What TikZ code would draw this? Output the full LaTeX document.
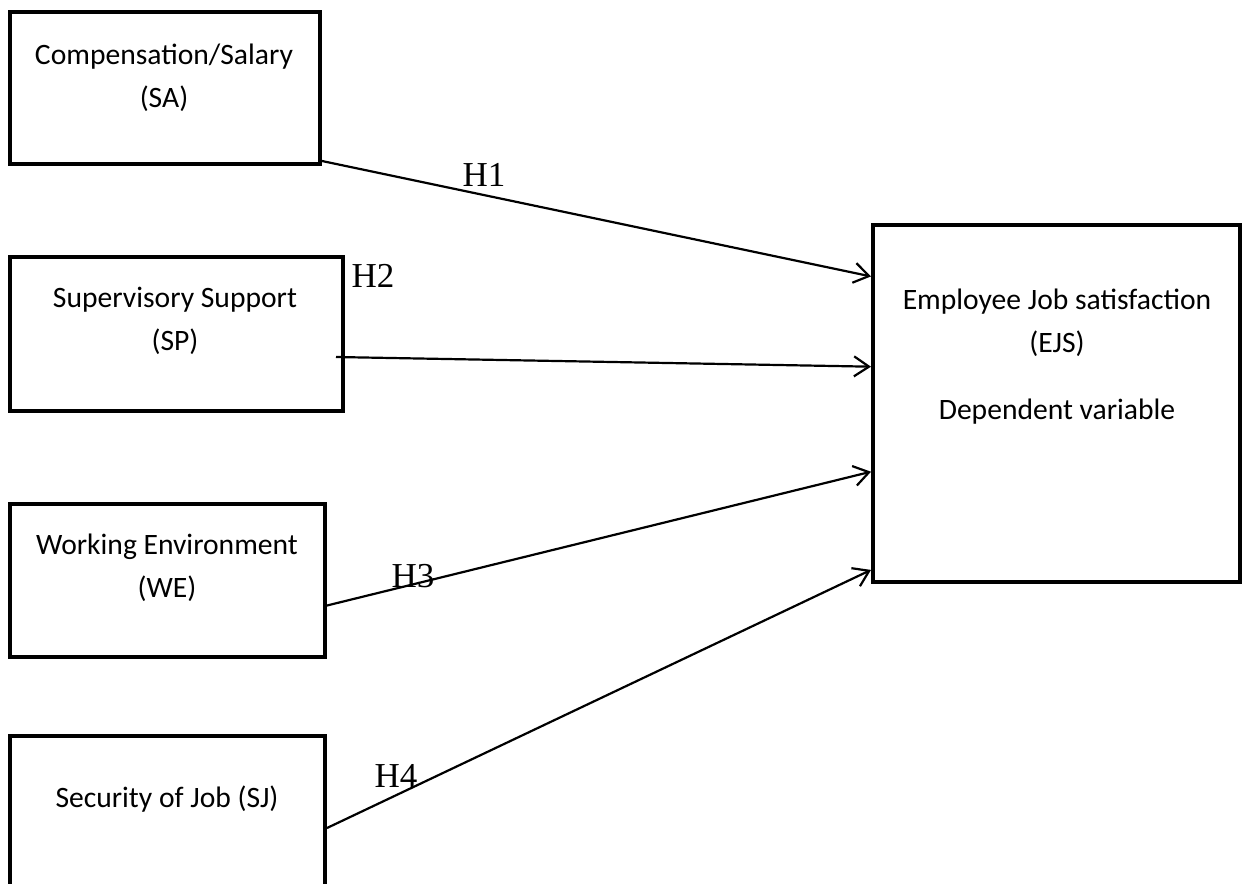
\documentclass[tikz,border=0pt]{standalone}
\usepackage{fontspec}
\setmainfont{Carlito}
\newfontfamily\hypfont{Liberation Serif}
\usepackage{tikz}
\usetikzlibrary{arrows.meta,calc,positioning}

\tikzset{
    varbox/.style={draw, rectangle, line width=2pt, inner sep=0pt},
    boxtext/.style={align=center, font=\fontsize{14.8}{21.5}\selectfont},
    hyp/.style={line width=1.1pt, -{Straight Barb[length=7.5pt,width=10pt]}},
    hyplabel/.style={font=\hypfont\fontsize{17.5}{20}\selectfont, inner sep=0pt}
}

\begin{document}
\begin{tikzpicture}[x=0.5pt, y=-0.5pt]
    \useasboundingbox (0,0) rectangle (1244,884);

    % Independent variables
    \node[varbox, minimum width=155pt, minimum height=76pt] (sa) at (165,88) {};
    \node[boxtext] (satext) at (164,78) {Compensation/Salary\\(SA)};

    \node[varbox, minimum width=166.5pt, minimum height=77pt] (sp) at (176.5,334) {};
    \node[boxtext] (sptext) at (175,321) {Supervisory Support\\(SP)};

    \node[varbox, minimum width=157.5pt, minimum height=76.5pt] (we) at (167.5,580.5) {};
    \node[boxtext] (wetext) at (167,568) {Working Environment\\(WE)};

    \node[varbox, minimum width=157.5pt, minimum height=76.5pt] (sj) at (167.5,812) {};
    \node[boxtext] (sjtext) at (167,799) {Security of Job (SJ)};

    % Dependent variable
    \node[varbox, minimum width=183.5pt, minimum height=178.5pt] (ejs) at (1056.5,403.5) {};
    \node[boxtext] (ejstext) at (1057,357) {Employee Job satisfaction\\(EJS)\\[12pt]Dependent variable};

    \coordinate (in1) at ($(ejs.north west)!0.148!(ejs.south west)$);
    \coordinate (in2) at ($(ejs.north west)!0.398!(ejs.south west)$);
    \coordinate (in3) at ($(ejs.north west)!0.689!(ejs.south west)$);
    \coordinate (in4) at ($(ejs.north west)!0.961!(ejs.south west)$);

    % Hypotheses
    \draw[hyp] ($(sa.south east)+(0,-5)$) -- (in1);
    \draw[hyp] ($(sp.east)+(-9,23)$) -- (in2);
    \draw[hyp] ($(we.east)+(0,25)$) -- (in3);
    \draw[hyp] ($(sj.east)+(0,16)$) -- (in4);

    \node[hyplabel] (h1) at (484,175) {H1};
    \node[hyplabel] (h2) at (373,276) {H2};
    \node[hyplabel] (h3) at (413,576) {H3};
    \node[hyplabel] (h4) at (396,776) {H4};
\end{tikzpicture}
\end{document}
